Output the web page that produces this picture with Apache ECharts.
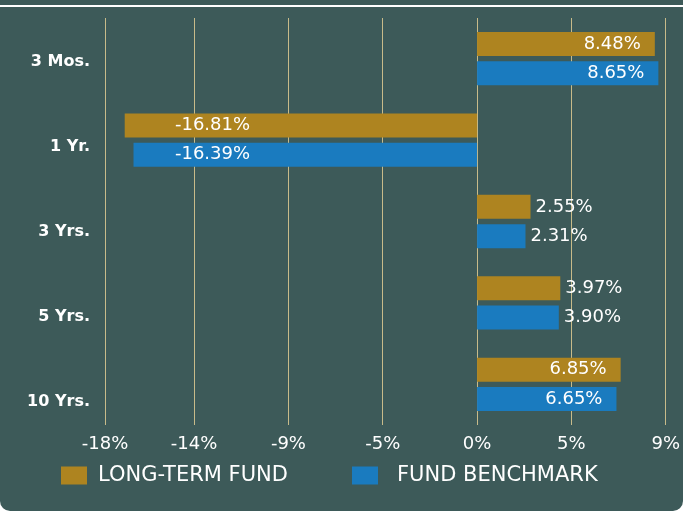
<!DOCTYPE html>
<html><head><meta charset="utf-8">
<script src="https://cdn.jsdelivr.net/npm/echarts@6/dist/echarts.min.js"></script>
<style>
html,body{margin:0;padding:0;background:#ffffff;}
#c{width:683px;height:511px;background:#3d5a59;border-radius:0 0 10px 10px;overflow:hidden;}
</style>
</head><body><div id="c"></div>
<script>
const categories = ['3 Mos.', '1 Yr.', '3 Yrs.', '5 Yrs.', '10 Yrs.'];
const fundValues = [8.48, -16.81, 2.55, 3.97, 6.85];
const benchValues = [8.65, -16.39, 2.31, 3.90, 6.65];
const seriesNames = ['LONG-TERM FUND', 'FUND BENCHMARK'];
const tickValues = [-17.75, -13.5, -9, -4.5, 0, 4.5, 9];
const tickLabels = ['-18%', '-14%', '-9%', '-5%', '0%', '5%', '9%'];

const FONT = 'DejaVu Sans';
const gridCommon = { left: 105, right: 16 };

function labelFor(v) {
  if (v < 0) return { position: 'insideRight', distance: 227 };
  if (v < 5) return { position: 'right', distance: 5 };
  return { position: 'insideRight', distance: 14 };
}
function buildData(arr) {
  return arr.map(v => ({ value: v, label: labelFor(v) }));
}
function tickFormatter(val) {
  let best = 0, bd = Infinity;
  tickValues.forEach((t, i) => { const d = Math.abs(t - val); if (d < bd) { bd = d; best = i; } });
  return tickLabels[best];
}

const chart = echarts.init(document.getElementById('c'), null, { renderer: 'canvas' });
const barLabel = {
  show: true, color: '#ffffff', fontSize: 18, fontFamily: FONT,
  formatter: p => p.value.toFixed(2) + '%'
};

chart.setOption({
  animation: false,
  backgroundColor: 'transparent',
  graphic: [{
    type: 'rect', left: 0, top: 5, shape: { width: 683, height: 2 },
    style: { fill: '#ffffff' }, silent: true
  }],
  grid: [
    Object.assign({ top: 18, height: 407 }, gridCommon),
    Object.assign({ top: 19, height: 425 }, gridCommon)
  ],
  xAxis: [{
    type: 'value', gridIndex: 0, min: tickValues[0], max: tickValues[tickValues.length - 1],
    axisLine: { show: false },
    axisTick: { show: false, customValues: tickValues },
    axisLabel: { customValues: tickValues, formatter: tickFormatter, color: '#ffffff',
      fontSize: 18, fontFamily: FONT, margin: 10 },
    splitLine: { show: true, lineStyle: { color: '#c8bb8a', width: 1 } }
  }, {
    type: 'value', gridIndex: 1, show: false
  }],
  yAxis: [{
    type: 'category', gridIndex: 0, inverse: true, data: categories,
    axisLine: { show: false }, axisTick: { show: false }, axisLabel: { show: false },
    splitLine: { show: false }
  }, {
    type: 'category', gridIndex: 1, inverse: true, data: categories,
    axisLine: { show: false }, axisTick: { show: false },
    axisLabel: { color: '#ffffff', fontSize: 16, fontWeight: 'bold', fontFamily: FONT, margin: 15 },
    splitLine: { show: false }
  }],
  legend: [{
    data: [seriesNames[0]], left: 61, top: 465, padding: 0, itemWidth: 26, itemHeight: 18,
    icon: 'rect', textStyle: { color: '#ffffff', fontSize: 21, fontFamily: FONT, padding: [0, 0, 0, 6] }
  }, {
    data: [seriesNames[1]], left: 352, top: 465, padding: 0, itemWidth: 26, itemHeight: 18,
    icon: 'rect', textStyle: { color: '#ffffff', fontSize: 21, fontFamily: FONT, padding: [0, 0, 0, 14] }
  }],
  series: [{
    type: 'bar', name: seriesNames[0], xAxisIndex: 0, yAxisIndex: 0,
    data: buildData(fundValues), barWidth: 24, barGap: '22%',
    itemStyle: { color: '#ae8420' }, label: barLabel
  }, {
    type: 'bar', name: seriesNames[1], xAxisIndex: 0, yAxisIndex: 0,
    data: buildData(benchValues), barWidth: 24, barGap: '22%',
    itemStyle: { color: '#1a7bbf' }, label: barLabel
  }]
});
</script>
</body></html>
